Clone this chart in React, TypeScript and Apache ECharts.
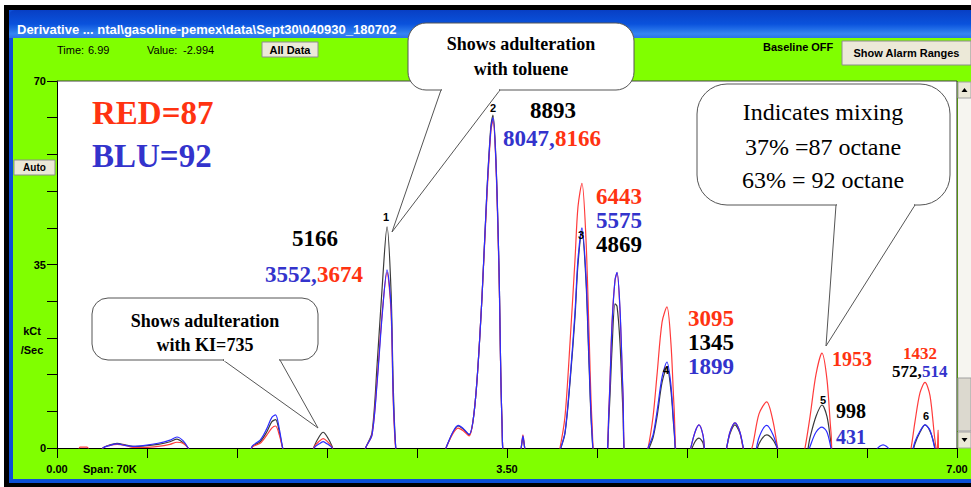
import React, { useEffect, useRef } from "react";
import * as echarts from "echarts";

// retention time (min)
const times = [
  0, 0.14, 0.179, 0.233, 0.29, 0.358, 0.412, 0.467, 0.529, 0.591, 0.684, 0.786, 0.879, 0.933, 0.98, 1.02, 1.08,
  1.45, 1.52, 1.58, 1.63, 1.67, 1.70, 1.73, 1.76, 1.80,
  1.96, 2.0, 2.04, 2.07, 2.10, 2.14, 2.18,
  2.37, 2.40, 2.45, 2.49, 2.53, 2.567, 2.598, 2.615, 2.635, 2.66,
  2.97, 3.03, 3.08, 3.12, 3.16, 3.205, 3.235, 3.267, 3.306, 3.344, 3.375, 3.391, 3.414, 3.438, 3.461, 3.49,
  3.59, 3.612, 3.624, 3.636, 3.66,
  3.88, 3.912, 3.951, 3.99, 4.029, 4.052, 4.083, 4.114, 4.138, 4.161, 4.192,
  4.262, 4.293, 4.317, 4.34, 4.356, 4.379, 4.402, 4.426,
  4.56, 4.597, 4.636, 4.667, 4.706, 4.744, 4.775, 4.799, 4.83,
  4.89, 4.923, 4.962, 4.993, 5.024, 5.063,
  5.17, 5.203, 5.234, 5.273, 5.312, 5.359,
  5.405, 5.46, 5.52, 5.57, 5.61, 5.65,
  5.78, 5.81, 5.857, 5.903, 5.95, 5.989, 6.02, 6.051,
  6.339, 6.378, 6.425, 6.471, 6.51,
  6.6, 6.635, 6.673, 6.712, 6.751, 6.79, 6.826, 6.845, 6.853, 6.862, 6.9, 7.0,
];

// kCt/sec, mixed sample (black)
const blackTrace = [
  -3, -3, -3, -3, -3, 0, 0.6, 0.9, 0.6, 0.3, 0.4, 0.7, 1.2, 1.7, 1.0, 0, -3,
  -3, 0.3, 1.2, 3.0, 5.0, 5.4, 3, -0.5, -3,
  -3, 0.3, 2.2, 3.0, 2.2, 0.3, -3,
  -3, 0, 2.9, 16, 31, 42.2, 30, 12, 0, -3,
  -3, 0.3, 3.0, 4.2, 3.6, 2.5, 5, 13, 29, 49, 61.5, 63.5, 55, 34, 5, -3,
  -3, 0.3, 2.0, 0.3, -3,
  -3, -0.5, 2.8, 12.5, 25, 35, 41.2, 32, 16, 2.5, -3,
  -3, 6, 19, 27.5, 27, 20, 7, -3,
  -3, -0.5, 2, 6, 12.5, 15.4, 11, 3.5, -3,
  -3, -1, 1.2, 1.9, 1.0, -3,
  -3, -0.5, 2.7, 4.4, 2.8, -2,
  -3, 0.8, 2.5, 1.5, -0.5, -3,
  -3, -3, 2, 6, 8.2, 6, 1, -3,
  -3, -3, -3, -3, -3,
  -3, -2.5, 0.8, 3, 4.4, 3.2, 0.3, -3, -3, -3, -3, -3,
];

// 87 octane (red)
const redTrace = [
  -3, -3, 0.15, 0.15, -3, 0, 0.5, 0.7, 0.5, 0.1, 0.1, 0.3, 0.7, 1.1, 0.9, 0, -3,
  -3, 0.2, 0.9, 2.4, 3.8, 4.2, 2.4, -0.5, -3,
  -3, 0.2, 1.3, 1.8, 1.3, 0.1, -3,
  -3, 0, 2.5, 13, 26, 33.5, 26, 9, -0.5, -3,
  -3, 0.3, 2.8, 3.8, 3.3, 2.3, 5, 13, 29, 48, 60.5, 62.5, 54, 33, 5, -3,
  -3, 0.3, 2.5, 0.3, -3,
  -3, 0, 6, 20, 36, 46, 50.5, 40, 22, 5, -3,
  -3, 8, 24, 32, 33.4, 26, 10, -3,
  -3, 0, 6, 14, 24, 26.9, 20, 8, -3,
  -3, -0.5, 3, 4.4, 2.5, -3,
  -3, -0.5, 3, 4.8, 3, -2,
  0, 6.5, 8.8, 5, -0.5, -3,
  -3, -1, 6, 14, 18.1, 13, 3, -3,
  -3, -3, -3, -3, -3,
  -3, -1, 5, 10.5, 12.5, 10, 2, -1, 3.4, -3, -3, -3,
];

// 92 octane (blue)
const blueTrace = [
  -3, -3, -3, -3, -3, 0, 0.5, 0.8, 0.5, 0.3, 0.5, 0.9, 1.5, 2.1, 1.4, 0, -3,
  -3, 0.4, 1.5, 3.6, 5.8, 6.3, 3.5, -0.5, -3,
  -3, 0, 0.8, 1.2, 0.8, 0, -3,
  -3, 0, 2.5, 12.5, 25.5, 34, 27, 10, 0, -3,
  -3, 0.3, 3.1, 4.3, 3.7, 2.6, 5, 13, 29, 49, 61, 63, 54.5, 34, 5, -3,
  -3, 0.3, 2.3, 0.3, -3,
  -3, -0.5, 3, 13, 26, 36, 42, 33, 17, 3, -3,
  -3, 7.5, 23.5, 32, 33.5, 26.5, 10.5, -3,
  -3, 0, 2.5, 7, 13.5, 16.4, 12, 4, -3,
  -3, -0.5, 3, 4.4, 2.5, -3,
  -3, -0.5, 3, 4.8, 3, -2,
  -3, 2, 4.3, 2.5, -0.5, -3,
  -3, -3, 0.3, 3, 4.0, 3, 0, -3,
  -3, -0.2, 0.6, -0.2, -3,
  -3, -2, 1.2, 3.2, 4.4, 3.4, 0, -3, -3, -3, -3, -3,
];

const xLabelTicks = [0, 3.5, 7];
const yLabelTicks = [0, 35, 70];

const RED = "#ff3311";
const BLUE = "#3333cc";
const SERIF = '"Liberation Serif", "Times New Roman", serif';
const SANS = '"Liberation Sans", Arial, sans-serif';

function txt(text: string, x: number, y: number, font: string, fill: string, align = "left", z = 100): any {
  return {
    type: "text",
    z,
    x,
    y,
    style: { text, font, fill, textAlign: align, textVerticalAlign: "middle" },
  };
}

function bubble(x: number, y: number, w: number, h: number, r: number, p1: number[], tip: number[], p2: number[]): any[] {
  return [
    { type: "rect", z: 100, shape: { x, y, width: w, height: h, r }, style: { fill: "#fff", stroke: "#555", lineWidth: 1 } },
    { type: "polygon", z: 101, shape: { points: [p1, tip, p2] }, style: { fill: "#fff", stroke: "#555", lineWidth: 1 } },
    { type: "line", z: 102, shape: { x1: p1[0] + 1, y1: p1[1], x2: p2[0] - 1, y2: p2[1] }, style: { stroke: "#fff", lineWidth: 2.5 } },
  ];
}

function button(x: number, y: number, w: number, h: number, label: string, font: string): any[] {
  return [
    { type: "rect", z: -90, shape: { x, y, width: w, height: h }, style: { fill: "#ece9d8", stroke: "#8c8c8c", lineWidth: 1 } },
    txt(label, x + w / 2, y + h / 2, font, "#000", "center", -89),
  ];
}

export default function App() {
  const ref = useRef<HTMLDivElement>(null);

  useEffect(() => {
    if (!ref.current) return;
    const chart = echarts.init(ref.current, undefined, { renderer: "svg" });

    const mk = (arr: number[]) => times.map((t, i) => [t, arr[i]]);
    const lineSeries = (name: string, arr: number[], color: string) => ({
      name,
      type: "line",
      data: mk(arr),
      smooth: 0.3,
      symbol: "none",
      clip: true,
      lineStyle: { color, width: 1.2 },
    });

    const bold11 = `bold 11px ${SANS}`;

    const graphics: any[] = [
      // window frame
      { type: "rect", z: -100, shape: { x: 4, y: 5, width: 967, height: 482 }, style: { fill: "#000" } },
      { type: "rect", z: -99, shape: { x: 9, y: 10, width: 962, height: 473 }, style: { fill: "#0c4fd6" } },
      {
        type: "rect",
        z: -98,
        shape: { x: 9, y: 10, width: 962, height: 28, r: [6, 0, 0, 0] },
        style: {
          fill: new echarts.graphic.LinearGradient(0, 0, 0, 1, [
            { offset: 0, color: "#083fc4" },
            { offset: 0.5, color: "#0a52dc" },
            { offset: 0.85, color: "#3585f2" },
            { offset: 1, color: "#2a72ea" },
          ]),
        },
      },
      { type: "rect", z: -97, shape: { x: 13, y: 38, width: 958, height: 441 }, style: { fill: "#80ff00" } },
      // plot area
      { type: "rect", z: -96, shape: { x: 57, y: 81, width: 900, height: 367 }, style: { fill: "#fff" } },
      { type: "line", z: 5, shape: { x1: 57, y1: 81, x2: 957, y2: 81 }, style: { stroke: "#444", lineWidth: 1 } },
      { type: "line", z: 5, shape: { x1: 957, y1: 81, x2: 957, y2: 448 }, style: { stroke: "#222", lineWidth: 1 } },
      // scrollbar
      { type: "rect", z: 6, shape: { x: 958, y: 82, width: 13, height: 366 }, style: { fill: "#f6f5f0" } },
      { type: "rect", z: 7, shape: { x: 958, y: 82, width: 13, height: 16 }, style: { fill: "#ece9d8", stroke: "#a0a0a0", lineWidth: 1 } },
      { type: "polygon", z: 8, shape: { points: [[961.5, 92], [964.5, 88], [967.5, 92]] }, style: { fill: "#000" } },
      { type: "rect", z: 7, shape: { x: 958, y: 378, width: 13, height: 53 }, style: { fill: "#dcd9cf", stroke: "#a0a0a0", lineWidth: 1 } },
      { type: "rect", z: 7, shape: { x: 958, y: 432, width: 13, height: 16 }, style: { fill: "#ece9d8", stroke: "#a0a0a0", lineWidth: 1 } },
      { type: "polygon", z: 8, shape: { points: [[961.5, 438], [964.5, 442], [967.5, 438]] }, style: { fill: "#000" } },
      // title bar
      txt("Derivative ... ntal\\gasoline-pemex\\data\\Sept30\\040930_180702", 17, 29, `bold 13px ${SANS}`, "#fff", "left", -80),
      // header
      txt("Time:", 57, 50, `11px ${SANS}`, "#000", "left", -80),
      txt("6.99", 88, 50, `11px ${SANS}`, "#000", "left", -80),
      txt("Value:", 147, 50, `11px ${SANS}`, "#000", "left", -80),
      txt("-2.994", 183, 50, `11px ${SANS}`, "#000", "left", -80),
      ...button(262, 42, 56, 15, "All Data", bold11),
      txt("Baseline OFF", 763, 47, bold11, "#000", "left", -80),
      ...button(842, 41, 129, 24, "Show Alarm Ranges", bold11),
      ...button(14, 160, 41, 15, "Auto", `bold 10px ${SANS}`),
      txt("kCt", 32, 331, bold11, "#000", "center", -80),
      txt("/Sec", 32, 350, bold11, "#000", "center", -80),
      txt("Span: 70K", 83, 469, bold11, "#000", "left", -80),
      // legend-like text
      txt("RED=87", 92, 113, `bold 33px ${SERIF}`, RED),
      txt("BLU=92", 92, 156, `bold 33px ${SERIF}`, BLUE),
      // peak values
      txt("5166", 292, 238, `bold 23px ${SERIF}`, "#000"),
      txt("3552,", 265, 274, `bold 23px ${SERIF}`, BLUE),
      txt("3674", 317, 274, `bold 23px ${SERIF}`, RED),
      txt("8893", 530, 110, `bold 23px ${SERIF}`, "#000"),
      txt("8047,", 503, 138, `bold 23px ${SERIF}`, BLUE),
      txt("8166", 555, 138, `bold 23px ${SERIF}`, RED),
      txt("6443", 596, 196, `bold 23px ${SERIF}`, RED),
      txt("5575", 596, 220, `bold 23px ${SERIF}`, BLUE),
      txt("4869", 596, 244, `bold 23px ${SERIF}`, "#000"),
      txt("3095", 688, 318, `bold 23px ${SERIF}`, RED),
      txt("1345", 688, 342, `bold 23px ${SERIF}`, "#000"),
      txt("1899", 688, 366, `bold 23px ${SERIF}`, BLUE),
      txt("1953", 832, 359, `bold 20px ${SERIF}`, RED),
      txt("998", 836, 411, `bold 20px ${SERIF}`, "#000"),
      txt("431", 836, 437, `bold 20px ${SERIF}`, BLUE),
      txt("1432", 903, 353, `bold 17px ${SERIF}`, RED),
      txt("572,", 892, 371, `bold 17px ${SERIF}`, "#000"),
      txt("514", 922, 371, `bold 17px ${SERIF}`, BLUE),
      // peak numbers
      txt("1", 386, 217, bold11, "#000", "center"),
      txt("2", 493, 108, bold11, "#000", "center"),
      txt("3", 581, 235, bold11, "#000", "center"),
      txt("4", 666, 370, bold11, "#000", "center"),
      txt("5", 823, 400, bold11, "#000", "center"),
      txt("6", 926, 416, bold11, "#000", "center"),
      // callouts
      ...bubble(408, 23, 226, 67, 18, [441, 90], [392, 232], [500, 90]),
      txt("Shows adulteration", 521, 44, `bold 18px ${SERIF}`, "#000", "center", 103),
      txt("with toluene", 521, 69, `bold 18px ${SERIF}`, "#000", "center", 103),
      ...bubble(92, 298, 226, 62, 16, [223, 360], [318, 428], [280, 360]),
      txt("Shows adulteration", 205, 321, `bold 18px ${SERIF}`, "#000", "center", 103),
      txt("with KI=735", 205, 345, `bold 18px ${SERIF}`, "#000", "center", 103),
      ...bubble(697, 84, 253, 121, 30, [836, 205], [826, 346], [915, 205]),
      txt("Indicates mixing", 823, 112, `24px ${SERIF}`, "#000", "center", 103),
      txt("37% =87 octane", 823, 147, `24px ${SERIF}`, "#000", "center", 103),
      txt("63% = 92 octane", 823, 180, `24px ${SERIF}`, "#000", "center", 103),
    ];

    chart.setOption({
      animation: false,
      backgroundColor: "#ffffff",
      grid: { left: 57, top: 81, width: 900, height: 367, containLabel: false },
      xAxis: {
        type: "value",
        min: 0,
        max: 7,
        interval: 0.7,
        axisLine: { show: true, onZero: false, lineStyle: { color: "#000", width: 1 } },
        axisTick: { show: true, inside: false, length: 10, lineStyle: { color: "#000" } },
        splitLine: { show: false },
        axisLabel: {
          margin: 15,
          color: "#000",
          fontWeight: "bold",
          fontSize: 11,
          fontFamily: SANS,
          formatter: (v: number) => (xLabelTicks.some((t) => Math.abs(v - t) < 1e-6) ? v.toFixed(2) : ""),
        },
      },
      yAxis: {
        type: "value",
        min: 0,
        max: 70,
        interval: 7,
        axisLine: { show: true, lineStyle: { color: "#000", width: 1 } },
        axisTick: { show: true, inside: false, length: 10, lineStyle: { color: "#000" } },
        splitLine: { show: false },
        axisLabel: {
          margin: 11,
          color: "#000",
          fontWeight: "bold",
          fontSize: 11,
          fontFamily: SANS,
          formatter: (v: number) => (yLabelTicks.some((t) => Math.abs(v - t) < 1e-6) ? String(Math.round(v)) : ""),
        },
      },
      series: [
        lineSeries("Mixed", blackTrace, "#3a3a3a"),
        lineSeries("87 octane", redTrace, "#ff3b3b"),
        lineSeries("92 octane", blueTrace, "#2b2bff"),
      ],
      graphic: graphics,
    });

    return () => chart.dispose();
  }, []);

  return <div ref={ref} style={{ position: "fixed", left: 0, top: 0, width: 971, height: 487 }} />;
}
